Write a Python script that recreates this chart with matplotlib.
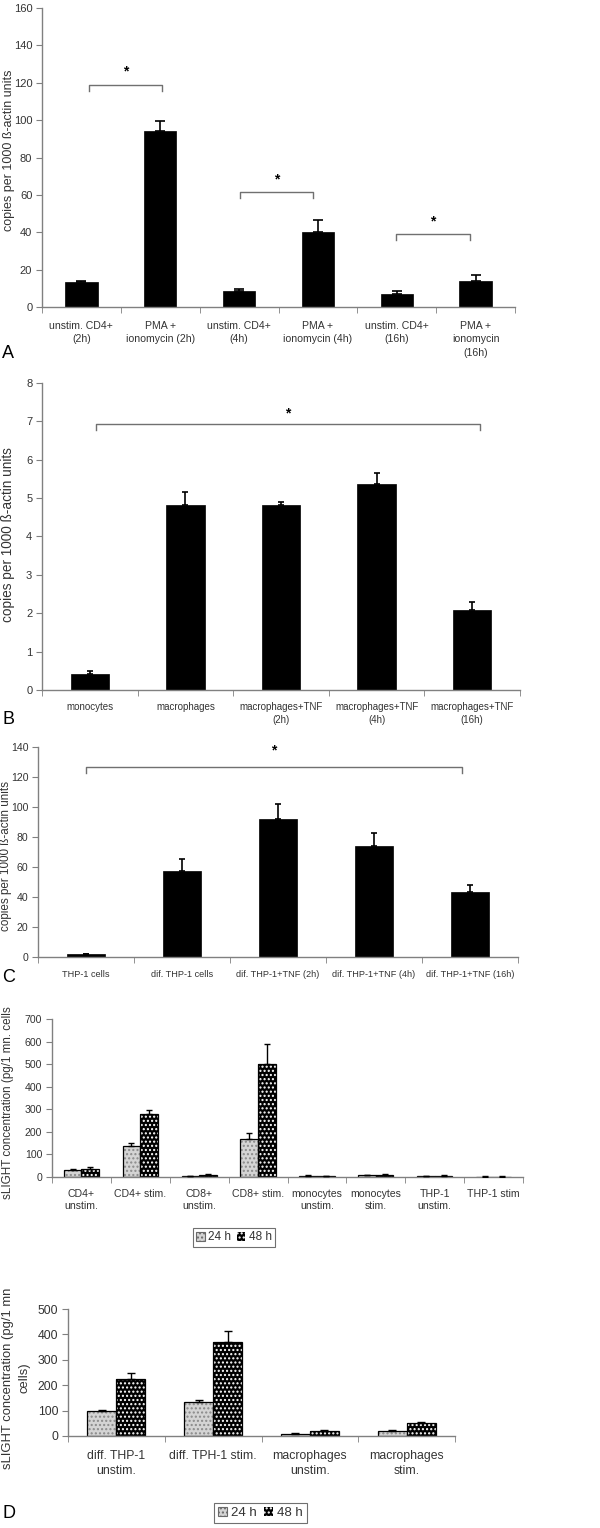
import numpy as np
import matplotlib
matplotlib.use("Agg")
import matplotlib.pyplot as plt
from matplotlib.patches import Patch

# ---- data ----
a_labels = ["unstim. CD4+\n(2h)", "PMA +\nionomycin (2h)", "unstim. CD4+\n(4h)",
            "PMA +\nionomycin (4h)", "unstim. CD4+\n(16h)", "PMA +\nionomycin\n(16h)"]
a_vals = [13.3, 94.1, 8.4, 40.4, 7.1, 14.1]
a_err = [0.8, 5.6, 1.0, 5.9, 1.3, 3.0]

b_labels = ["monocytes", "macrophages", "macrophages+TNF\n(2h)",
            "macrophages+TNF\n(4h)", "macrophages+TNF\n(16h)"]
b_vals = [0.41, 4.81, 4.81, 5.36, 2.08]
b_err = [0.09, 0.35, 0.08, 0.29, 0.21]

c_labels = ["THP-1 cells", "dif. THP-1 cells", "dif. THP-1+TNF (2h)",
            "dif. THP-1+TNF (4h)", "dif. THP-1+TNF (16h)"]
c_vals = [1.8, 57.3, 91.8, 74.2, 43.1]
c_err = [0.0, 8.0, 10.4, 8.5, 5.1]

d1_labels = ["CD4+\nunstim.", "CD4+ stim.", "CD8+\nunstim.", "CD8+ stim.",
             "monocytes\nunstim.", "monocytes\nstim.", "THP-1\nunstim.", "THP-1 stim"]
d1_24 = [31, 137, 4, 168, 5, 7, 3, 2]
d1_24_err = [3, 12, 1, 28, 3, 2, 1, 1]
d1_48 = [37, 278, 9, 499, 3, 8, 5, 2]
d1_48_err = [7, 20, 4, 92, 1, 4, 2, 1]

d2_labels = ["diff. THP-1\nunstim.", "diff. TPH-1 stim.", "macrophages\nunstim.",
             "macrophages\nstim."]
d2_24 = [99, 133, 7, 20]
d2_24_err = [4, 8, 5, 5]
d2_48 = [223, 372, 20, 50]
d2_48_err = [26, 40, 2, 5]

series_names = ["24 h", "48 h"]

# ---- style ----
W, H = 600, 1528
FONT = ["Liberation Sans", "DejaVu Sans"]
TXT = "#333333"
AXC = "#808080"
plt.rcParams["hatch.linewidth"] = 1.0
plt.rcParams["font.family"] = FONT

fig = plt.figure(figsize=(W / 100, H / 100), dpi=100)


def make_axes(l, r, t, b):
    return fig.add_axes([l / W, 1 - b / H, (r - l) / W, (b - t) / H])


def style_axes(ax, n, labels, ymax, ystep, tick_fs, lab_fs, pad, lsp):
    ax.set_xlim(-0.5, n - 0.5)
    ax.set_ylim(0, ymax)
    for s in ["top", "right"]:
        ax.spines[s].set_visible(False)
    for s in ["left", "bottom"]:
        ax.spines[s].set_color(AXC)
        ax.spines[s].set_linewidth(1.0)
    ax.set_yticks(np.arange(0, ymax + ystep / 2, ystep))
    ax.tick_params(axis="y", length=4, color=AXC, pad=3, labelcolor=TXT,
                   labelsize=tick_fs)
    ax.set_xticks(np.arange(n))
    ax.set_xticks(np.arange(n + 1) - 0.5, minor=True)
    ax.tick_params(axis="x", which="major", length=0, pad=pad)
    ax.tick_params(axis="x", which="minor", length=4, color=AXC)
    ax.set_xticklabels(labels, fontsize=lab_fs, color=TXT, linespacing=lsp)


def ylabel_at(x, y, text, fs, lsp=1.2):
    fig.text(x / W, 1 - y / H, text, rotation=90, ha="center", va="center",
             fontsize=fs, color=TXT, linespacing=lsp, multialignment="center")


def bracket(ax, x0, x1, y, drop, ystar, fs=10):
    ax.plot([x0, x0, x1, x1], [y - drop, y, y, y - drop], color="#707070", lw=1.0)
    ax.text((x0 + x1) / 2, ystar, "*", ha="center", va="center", fontsize=fs,
            color="black", fontweight="bold")


def black_bars(ax, vals, err, width, capsize):
    x = np.arange(len(vals))
    ax.bar(x, vals, width, color="black", edgecolor="black", linewidth=0.5, zorder=2)
    ax.errorbar(x, vals, yerr=[np.zeros(len(err)), err], fmt="none", ecolor="black",
                elinewidth=1.2, capsize=capsize, capthick=1.2, zorder=3)


def hatched_bars(ax, x, vals, err, width, face, hcolor, hatch, capsize):
    ax.bar(x, vals, width, color=face, edgecolor=hcolor, hatch=hatch, linewidth=0,
           zorder=2)
    ax.bar(x, vals, width, fill=False, edgecolor="black", linewidth=0.9, zorder=2)
    ax.errorbar(x, vals, yerr=[np.zeros(len(err)), err], fmt="none", ecolor="black",
                elinewidth=1.0, capsize=capsize, capthick=1.0, zorder=3)


ylab_copies = "copies per 1000 ß-actin units"

# ---- panel A ----
axA = make_axes(42, 515, 8, 307)
black_bars(axA, a_vals, a_err, 0.41, 3.5)
style_axes(axA, 6, a_labels, 160, 20, 8, 7.6, 10, 1.45)
bracket(axA, 0.1, 1.02, 119, 3.2, 126)
bracket(axA, 2.01, 2.94, 61.4, 3.2, 68)
bracket(axA, 3.99, 4.93, 39.2, 3.2, 46)
ylabel_at(9, 150, ylab_copies, 9)
fig.text(2 / W, 1 - 353 / H, "A", fontsize=13, va="center", ha="left")

# ---- panel B ----
axB = make_axes(42, 520, 383, 690)
black_bars(axB, b_vals, b_err, 0.40, 2.5)
style_axes(axB, 5, b_labels, 8, 1, 8, 7, 8.5, 1.35)
bracket(axB, 0.067, 4.08, 6.92, 0.15, 7.2)
ylabel_at(8, 535, ylab_copies, 9.8)
fig.text(2 / W, 1 - 720 / H, "B", fontsize=13, va="center", ha="left")

# ---- panel C ----
axC = make_axes(38, 518, 747, 957)
black_bars(axC, c_vals, c_err, 0.40, 2.5)
style_axes(axC, 5, c_labels, 140, 20, 7.6, 6.6, 9, 1.3)
bracket(axC, 0.0, 3.92, 126.9, 4, 138)
ylabel_at(6.5, 856, ylab_copies, 8.4)
fig.text(2 / W, 1 - 977 / H, "C", fontsize=13, va="center", ha="left")

# ---- panel D (top) ----
axD1 = make_axes(52, 523, 1019, 1177)
x1 = np.arange(len(d1_labels))
hatched_bars(axD1, x1 - 0.15, d1_24, d1_24_err, 0.3, "#d4d4d4", "#8a8a8a", "....", 2.5)
hatched_bars(axD1, x1 + 0.15, d1_48, d1_48_err, 0.3, "black", "white", "....", 2.5)
style_axes(axD1, 8, d1_labels, 700, 100, 7.6, 7.6, 8.5, 1.25)
ylabel_at(8, 1103, "sLIGHT concentration (pg/1 mn. cells", 8.4)

# ---- panel D (bottom) ----
axD2 = make_axes(68, 455, 1309, 1436)
x2 = np.arange(len(d2_labels))
hatched_bars(axD2, x2 - 0.15, d2_24, d2_24_err, 0.3, "#d4d4d4", "#8a8a8a", "....", 3)
hatched_bars(axD2, x2 + 0.15, d2_48, d2_48_err, 0.3, "black", "white", "....", 3)
style_axes(axD2, 4, d2_labels, 500, 100, 8.8, 8.8, 10, 1.3)
ylabel_at(16, 1378, "sLIGHT concentration (pg/1 mn\ncells)", 9.4, 1.5)
fig.text(2 / W, 1 - 1513 / H, "D", fontsize=13, va="center", ha="left")


def add_legend(cx, cy, fs):
    handles = [
        Patch(facecolor="#d4d4d4", edgecolor="#6a6a6a", hatch="....", linewidth=0.8),
        Patch(facecolor="black", edgecolor="white", hatch="....", linewidth=0.0),
    ]
    leg = fig.legend(handles, series_names, loc="center",
                     bbox_to_anchor=(cx / W, 1 - cy / H), ncol=2,
                     frameon=True, fancybox=False, framealpha=1, borderpad=0.3,
                     handlelength=0.7, handleheight=0.7, handletextpad=0.3,
                     columnspacing=0.5, prop={"size": fs})
    leg.get_frame().set_edgecolor("#707070")
    leg.get_frame().set_linewidth(0.8)
    for t in leg.get_texts():
        t.set_color(TXT)


add_legend(234, 1237.5, 8.5)
add_legend(260.5, 1513, 9.5)

fig.savefig("out.png", dpi=100, facecolor="white")
